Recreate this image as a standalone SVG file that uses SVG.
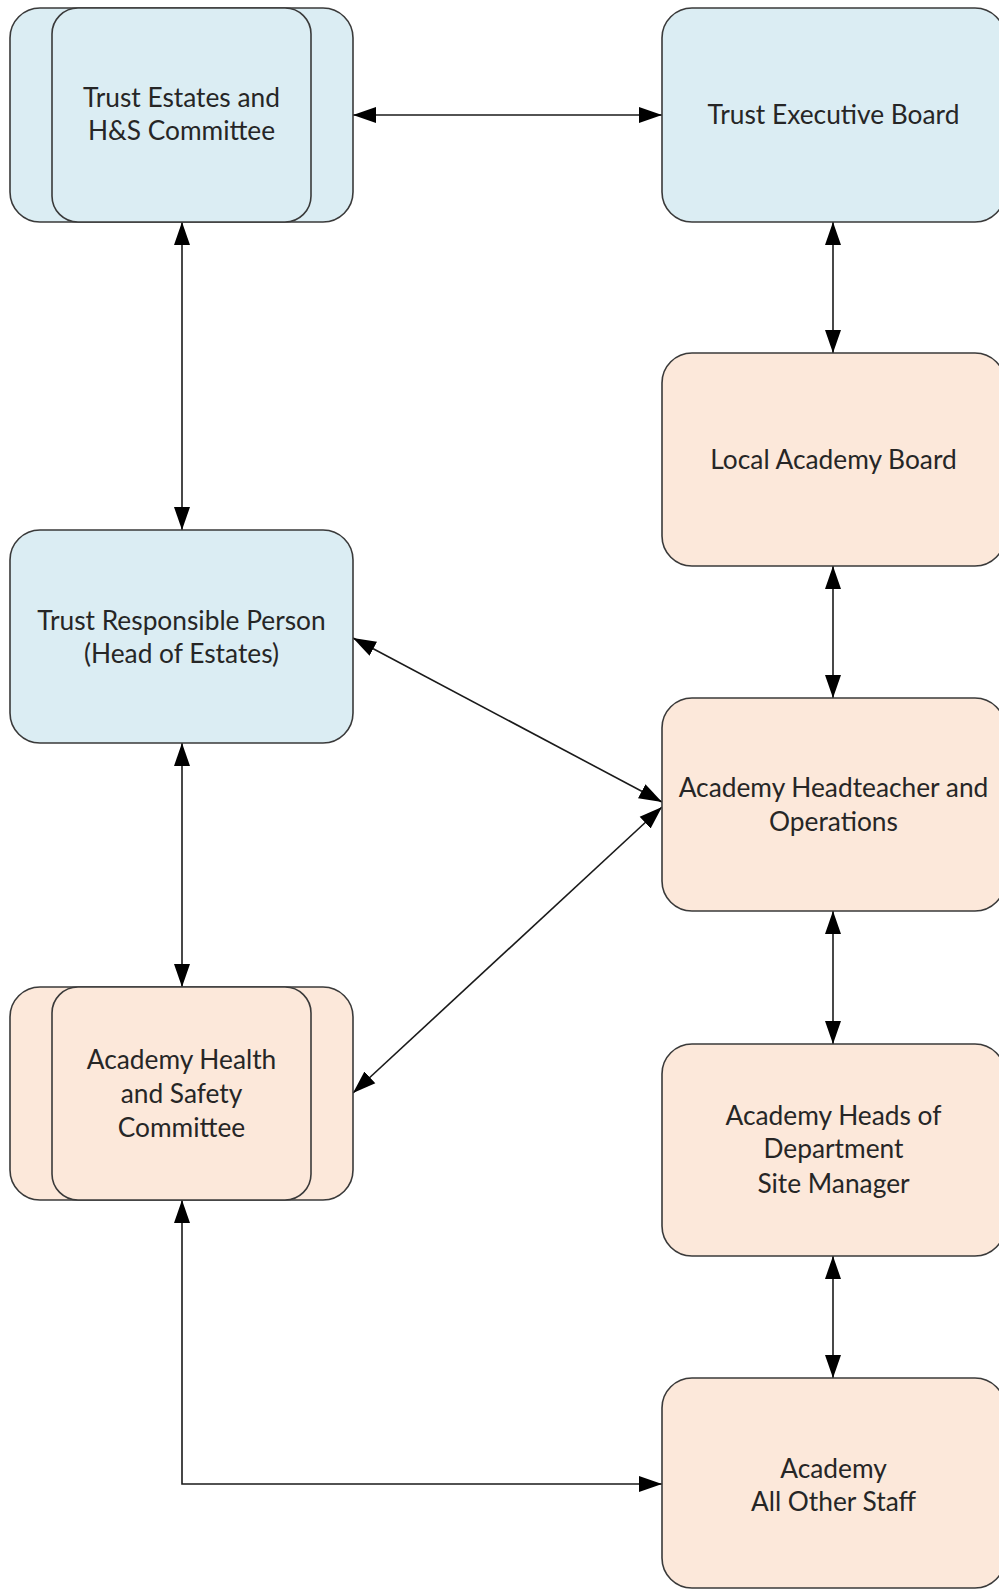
<svg xmlns="http://www.w3.org/2000/svg" width="999" height="1590" viewBox="0 0 999 1590">
<style>
.blue{fill:#dbedf3;stroke:#3a3a3a;stroke-width:1.6}
.peach{fill:#fce8da;stroke:#3a3a3a;stroke-width:1.6}
.t{font-family:Lato,"Liberation Sans",sans-serif;font-size:26.3px;fill:#262626;text-anchor:middle}
.c{fill:none;stroke:#1a1a1a;stroke-width:1.6;marker-start:url(#ah);marker-end:url(#ah)}
</style>
<defs>
<marker id="ah" markerUnits="userSpaceOnUse" markerWidth="24" markerHeight="18" viewBox="0 0 24 18" refX="23" refY="9" orient="auto-start-reverse">
<path d="M0,1 L23,9 L0,17 Z" fill="#000"/>
</marker>
</defs>
<g id="connectors">
<line class="c" x1="353" y1="115" x2="662" y2="115"/>
<line class="c" x1="182" y1="222" x2="182" y2="530"/>
<line class="c" x1="833" y1="222" x2="833" y2="353"/>
<line class="c" x1="833" y1="566" x2="833" y2="698"/>
<line class="c" x1="353" y1="638" x2="662" y2="802"/>
<line class="c" x1="353" y1="1093" x2="662" y2="807"/>
<line class="c" x1="182" y1="743" x2="182" y2="987"/>
<line class="c" x1="833" y1="911" x2="833" y2="1044"/>
<line class="c" x1="833" y1="1256" x2="833" y2="1378"/>
<polyline class="c" points="182,1200 182,1484 662,1484"/>
</g>
<g id="trust-estates">
<rect class="blue" x="10" y="8" width="343" height="214" rx="30"/>
<rect class="blue" x="52" y="8" width="259" height="214" rx="26"/>
<text class="t" x="181.5" y="107">Trust Estates and</text>
<text class="t" x="181.5" y="140">H&amp;S Committee</text>
</g>
<g id="trust-executive">
<rect class="blue" x="662" y="8" width="343" height="214" rx="30"/>
<text class="t" x="833.5" y="124">Trust Executive Board</text>
</g>
<g id="local-academy">
<rect class="peach" x="662" y="353" width="343" height="213" rx="30"/>
<text class="t" x="833.5" y="469">Local Academy Board</text>
</g>
<g id="trust-responsible">
<rect class="blue" x="10" y="530" width="343" height="213" rx="30"/>
<text class="t" x="181.5" y="630">Trust Responsible Person</text>
<text class="t" x="181.5" y="663">(Head of Estates)</text>
</g>
<g id="headteacher">
<rect class="peach" x="662" y="698" width="343" height="213" rx="30"/>
<text class="t" x="833.5" y="797">Academy Headteacher and</text>
<text class="t" x="833.5" y="831">Operations</text>
</g>
<g id="academy-hs">
<rect class="peach" x="10" y="987" width="343" height="213" rx="30"/>
<rect class="peach" x="52" y="987" width="259" height="213" rx="26"/>
<text class="t" x="181.5" y="1069">Academy Health</text>
<text class="t" x="181.5" y="1103">and Safety</text>
<text class="t" x="181.5" y="1137">Committee</text>
</g>
<g id="heads-of-department">
<rect class="peach" x="662" y="1044" width="343" height="212" rx="30"/>
<text class="t" x="833.5" y="1125">Academy Heads of</text>
<text class="t" x="833.5" y="1158">Department</text>
<text class="t" x="833.5" y="1193">Site Manager</text>
</g>
<g id="all-other-staff">
<rect class="peach" x="662" y="1378" width="343" height="210" rx="30"/>
<text class="t" x="833.5" y="1478">Academy</text>
<text class="t" x="833.5" y="1511">All Other Staff</text>
</g>
</svg>
